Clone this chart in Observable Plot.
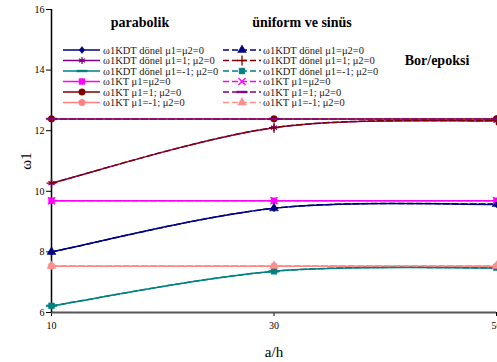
<!DOCTYPE html>
<html><head><meta charset="utf-8">
<script src="https://cdn.jsdelivr.net/npm/d3@7"></script>
<script src="https://cdn.jsdelivr.net/npm/@observablehq/plot@0.6"></script>
<style>
body{margin:0;background:#fff;}
#wrap{position:relative;width:497px;height:362px;overflow:hidden;font-family:"Liberation Serif","Times New Roman",serif;}
.ttl{position:absolute;font-weight:bold;font-size:14px;color:#000;white-space:nowrap;transform:translate(-50%,-50%);}
#legend{position:absolute;left:0;top:0;}
g[aria-label="y-axis label"] text, g[aria-label="x-axis label"] text{font-size:15px;}
</style></head>
<body><div id="wrap"></div>
<script>
const ah = [10, 30, 50];
const tickLabelsX = [10, 30, 50];
const tickLabelsY = [6, 8, 10, 12, 14, 16];
const seriesNames = [
  "ω1KDT dönel μ1=μ2=0","ω1KDT dönel μ1=1; μ2=0","ω1KDT dönel μ1=-1; μ2=0",
  "ω1KT μ1=μ2=0","ω1KT μ1=1; μ2=0","ω1KT μ1=-1; μ2=0"
];
// parabolik (solid)
const p_kdt0 = [8.00, 9.44, 9.57];
const p_kdt1 = [10.27, 12.10, 12.33];
const p_kdtm1 = [6.22, 7.36, 7.47];
const p_kt0 = [9.69, 9.69, 9.69];
const p_kt1 = [12.39, 12.39, 12.39];
const p_ktm1 = [7.53, 7.53, 7.53];
// üniform ve sinüs (dashed)
const u_kdt0 = [8.00, 9.44, 9.58];
const u_kdt1 = [10.27, 12.10, 12.34];
const u_kdtm1 = [6.22, 7.36, 7.48];
const u_kt0 = [9.69, 9.69, 9.69];
const u_kt1 = [12.39, 12.39, 12.39];
const u_ktm1 = [7.54, 7.54, 7.54];

const dash = {draw(ctx, size){const w=Math.sqrt(size)*0.9;ctx.moveTo(-w,-0.9);ctx.lineTo(w,-0.9);ctx.lineTo(w,0.9);ctx.lineTo(-w,0.9);ctx.closePath();}};
const diamond = {draw(ctx,size){const r=Math.sqrt(size)*0.6;ctx.moveTo(0,-r);ctx.lineTo(r*0.8,0);ctx.lineTo(0,r);ctx.lineTo(-r*0.8,0);ctx.closePath();}};

// spreadsheet-style smoothing (Catmull-Rom Bezier with duplicated end points)
function smoothCurve(context){
  let pts;
  return {
    areaStart(){}, areaEnd(){},
    lineStart(){pts=[];},
    point(x,y){pts.push([+x,+y]);},
    lineEnd(){
      const n=pts.length; if(!n) return;
      context.moveTo(pts[0][0],pts[0][1]);
      for(let i=0;i<n-1;i++){
        const p0=pts[Math.max(0,i-1)], p1=pts[i], p2=pts[i+1], p3=pts[Math.min(n-1,i+2)];
        context.bezierCurveTo(p1[0]+(p2[0]-p0[0])/6, p1[1]+(p2[1]-p0[1])/6,
                              p2[0]-(p3[0]-p1[0])/6, p2[1]-(p3[1]-p1[1])/6, p2[0], p2[1]);
      }
    }
  };
}

const solid = [
  {name:seriesNames[0], v:p_kdt0, color:"#000080", sym:diamond, fill:true},
  {name:seriesNames[1], v:p_kdt1, color:"#800080", sym:"asterisk", fill:false},
  {name:seriesNames[2], v:p_kdtm1, color:"#008080", sym:dash, fill:true},
  {name:seriesNames[3], v:p_kt0, color:"#FF00FF", sym:"square", fill:true},
  {name:seriesNames[4], v:p_kt1, color:"#800000", sym:"circle", fill:true},
  {name:seriesNames[5], v:p_ktm1, color:"#FF8080", sym:"circle", fill:true}
];
const dashed = [
  {name:seriesNames[0], v:u_kdt0, color:"#000080", sym:"triangle", fill:true},
  {name:seriesNames[1], v:u_kdt1, color:"#800000", sym:"plus", fill:false},
  {name:seriesNames[2], v:u_kdtm1, color:"#008080", sym:"square", fill:true},
  {name:seriesNames[3], v:u_kt0, color:"#FF00FF", sym:"times", fill:false},
  {name:seriesNames[4], v:u_kt1, color:"#800080", sym:dash, fill:true},
  {name:seriesNames[5], v:u_ktm1, color:"#FF9090", sym:"triangle", fill:true}
];
const rows = (s, g) => s.v.map((y,i)=>({x:ah[i], y, g}));

const marks = [];
const all = [...solid.map(s=>({...s,dashed:false})), ...dashed.map(s=>({...s,dashed:true}))];
all.forEach((s,k)=>{
  const d = rows(s,k);
  marks.push(Plot.line(d,{x:"x",y:"y",stroke:s.color,strokeWidth:1.5,curve:smoothCurve,strokeDasharray:s.dashed?"6,3":null}));
  marks.push(Plot.dot(d,{x:"x",y:"y",symbol:()=>s.sym,r:3.3,fill:s.fill?s.color:"none",stroke:s.color,strokeWidth:s.fill?0.5:1.3}));
});

const chart = Plot.plot({
  width:497, height:362,
  marginLeft:51, marginRight:1, marginTop:9, marginBottom:50,
  style:{fontFamily:"'Liberation Serif','Times New Roman',serif", fontSize:"10px", color:"#000", background:"#fff", overflow:"visible"},
  x:{domain:[10,50], ticks:tickLabelsX, tickSize:4, tickPadding:5, label:"a/h", labelAnchor:"center", labelOffset:44, labelArrow:"none"},
  y:{domain:[6,16], ticks:tickLabelsY, tickSize:5, tickPadding:2, label:"ω1", labelAnchor:"center", labelOffset:31, labelArrow:"none"},
  symbol:{type:"identity"},
  marks:[
    Plot.ruleY([6],{stroke:"#555",strokeWidth:2}),
    Plot.ruleX([10],{stroke:"#000",strokeWidth:1.5}),
    ...marks
  ]
});
const wrap = document.getElementById("wrap");
wrap.appendChild(chart);

// titles
[["parabolik",140,23],["üniform ve sinüs",302,23],["Bor/epoksi",437,61]].forEach(([t,x,y])=>{
  const d=document.createElement("div");d.className="ttl";d.textContent=t;d.style.left=x+"px";d.style.top=y+"px";wrap.appendChild(d);
});

// legend
const lg = d3.select(wrap).append("svg").attr("id","legend").attr("width",497).attr("height",362);
const rowY = [50,60.5,71,81.5,92,102.5];
[[solid,63,100,82,103,false],[dashed,223,261,242,263,true]].forEach(([ser,x0,x1,mx,tx,dsh])=>{
  ser.forEach((s,i)=>{
    const y=rowY[i];
    lg.append("line").attr("x1",x0).attr("x2",x1).attr("y1",y).attr("y2",y).attr("stroke",s.color).attr("stroke-width",1.5).attr("stroke-dasharray",dsh?"6,3":null);
    const t = typeof s.sym==="string" ? {circle:d3.symbolCircle,square:d3.symbolSquare,triangle:d3.symbolTriangle,asterisk:d3.symbolAsterisk,plus:d3.symbolPlus,times:d3.symbolTimes}[s.sym] : s.sym;
    lg.append("path").attr("transform",`translate(${mx},${y})`).attr("d",d3.symbol(t,34)())
      .attr("fill",s.fill?s.color:"none").attr("stroke",s.color).attr("stroke-width",s.fill?0.5:1.3);
    lg.append("text").attr("x",tx).attr("y",y).attr("dy","0.35em").attr("font-size","10.5px")
      .attr("font-family","'Liberation Serif','Times New Roman',serif").attr("fill","#222").text(s.name);
  });
});
</script></body></html>
